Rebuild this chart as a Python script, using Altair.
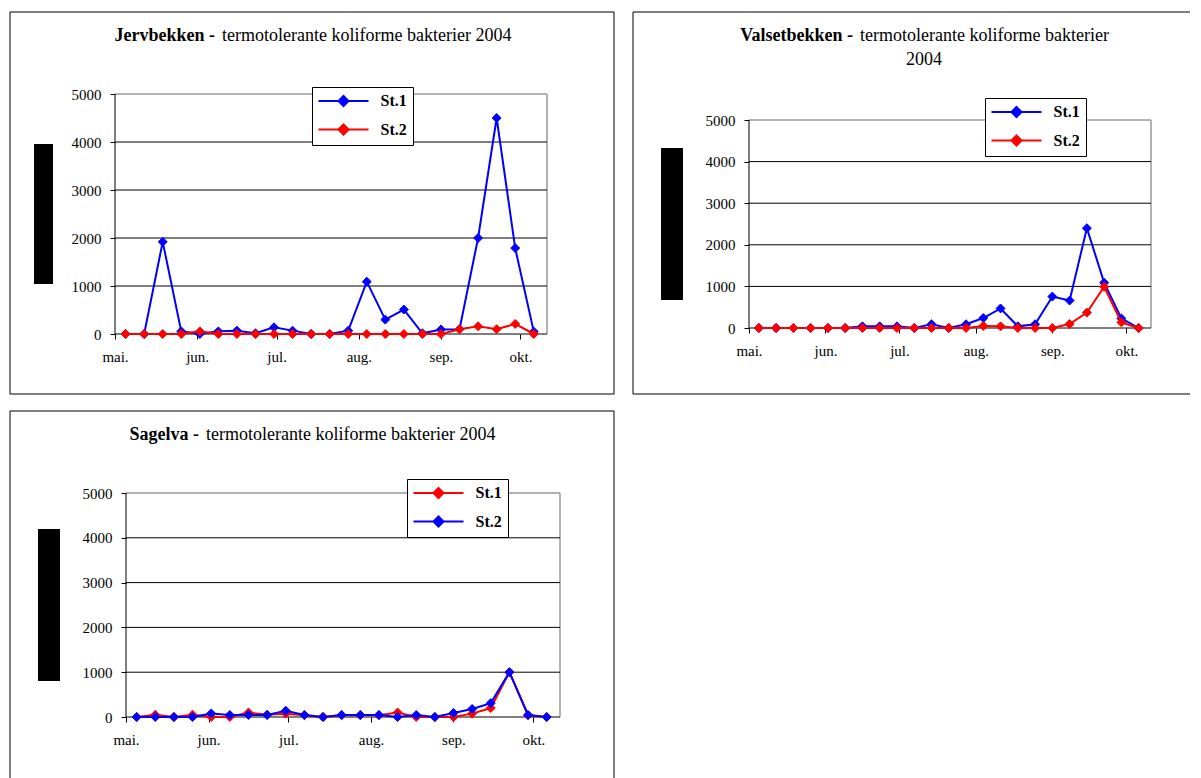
import altair as alt
import pandas as pd

# ---------------- data ----------------
dates = [
    "2004-05-05", "2004-05-12", "2004-05-19", "2004-05-26",
    "2004-06-02", "2004-06-09", "2004-06-16", "2004-06-23", "2004-06-30",
    "2004-07-07", "2004-07-14", "2004-07-21", "2004-07-28",
    "2004-08-04", "2004-08-11", "2004-08-18", "2004-08-25",
    "2004-09-01", "2004-09-08", "2004-09-15", "2004-09-22", "2004-09-29",
    "2004-10-06",
]
stations = ["St.1", "St.2"]
month_labels = ["mai.", "jun.", "jul.", "aug.", "sep.", "okt."]
month_starts = ["2004-05-01", "2004-06-01", "2004-07-01", "2004-08-01", "2004-09-01", "2004-10-01"]
axis_range = ["2004-05-01", "2004-10-11"]
y_ticks = [0, 1000, 2000, 3000, 4000, 5000]

jerv_st1 = [0, 0, 1920, 55, 0, 55, 70, 15, 140, 70, 0, 0, 70, 1090, 300, 510, 15, 95, 100, 2000, 4500, 1790, 50]
jerv_st2 = [0, 0, 0, 0, 55, 0, 0, 0, 0, 0, 0, 0, 0, 0, 0, 0, 0, 0, 100, 160, 100, 210, 0]

vals_st1 = [0, 0, 0, 0, 0, 0, 40, 40, 40, 0, 90, 0, 90, 240, 470, 40, 90, 755, 660, 2400, 1090, 230, 0]
vals_st2 = [0, 0, 0, 0, 0, 0, 0, 0, 0, 0, 0, 0, 0, 50, 40, 0, 0, 0, 95, 370, 990, 135, 0]

sag_st1 = [0, 50, 0, 50, 0, 0, 100, 50, 75, 40, 0, 40, 40, 40, 100, 0, 0, 0, 75, 200, 1000, 40, 0]
sag_st2 = [0, 0, 0, 0, 80, 45, 45, 45, 140, 45, 0, 45, 45, 45, 0, 45, 0, 90, 180, 310, 1000, 45, 0]

titles_bold = ["Jervbekken -", "Valsetbekken -", "Sagelva -"]
titles_rest = [
    "termotolerante koliforme bakterier 2004",
    "termotolerante koliforme bakterier",
    "termotolerante koliforme bakterier 2004",
]
titles_line2 = ["", "2004", ""]

# ---------------- style ----------------
BLUE = "#0000FF"
RED = "#FF0000"
GRAY = "#999999"
SERIF = "Liberation Serif"
TITLE_SIZE = 18
DAY = 86400000


def ms(s):
    return int(pd.Timestamp(s, tz="UTC").value // 10**6)


tick_ms = [ms(d) for d in month_starts]
label_expr = "[" + ",".join("'%s'" % m for m in month_labels) + "][utcmonth(datum.value) - 4]"

# plot-frame segments (axis lines, grid, plot border) in data units
black_segments = pd.DataFrame(
    [{"x": axis_range[0], "x2": axis_range[1], "y": v, "y2": v} for v in y_ticks[:-1]]
    + [{"x": axis_range[0], "x2": axis_range[0], "y": y_ticks[0], "y2": y_ticks[-1]}]
)
gray_segments = pd.DataFrame([
    {"x": axis_range[0], "x2": axis_range[1], "y": y_ticks[-1], "y2": y_ticks[-1]},
    {"x": axis_range[1], "x2": axis_range[1], "y": y_ticks[0], "y2": y_ticks[-1]},
])


def hline(x1, x2, yy):
    return alt.Chart(pd.DataFrame({"k": [0]})).mark_rule(color="black", strokeWidth=1).encode(
        x=alt.value(x1), x2=alt.value(x2), y=alt.value(yy))


def vline(xx, y1, y2):
    return alt.Chart(pd.DataFrame({"k": [0]})).mark_rule(color="black", strokeWidth=1).encode(
        x=alt.value(xx), y=alt.value(y1), y2=alt.value(y2))


def panel(idx, s1, s2, colors, view, xdom, ymax, yoff, frame, edges, box, title_cfg, leg_xy):
    vx, vy, w, h = view

    def X(field):
        return alt.X(field + ":T",
                     scale=alt.Scale(type="utc", domain=xdom),
                     axis=alt.Axis(values=tick_ms, labelExpr=label_expr, title=None, grid=False,
                                   domain=False, tickSize=5, labelPadding=10,
                                   labelOverlap=False, labelFlush=False))

    def Y(field):
        return alt.Y(field + ":Q",
                     scale=alt.Scale(domain=[0, ymax], nice=False, zero=True),
                     axis=alt.Axis(values=y_ticks, format="d", title=None, grid=False, domain=False,
                                   tickSize=5, labelPadding=9, offset=yoff))

    df = pd.DataFrame({
        "date": dates + dates,
        "value": s1 + s2,
        "station": [stations[0]] * len(dates) + [stations[1]] * len(dates),
    })
    leg = alt.Legend(
        title=None, orient="none", legendX=leg_xy[0] - vx, legendY=leg_xy[1] - vy,
        fillColor="white", strokeColor="black", padding=6,
        symbolType="M-5,0L5,0M0,-1L1,0L0,1L-1,0Z", symbolSize=100,
        symbolStrokeWidth=2, symbolOffset=17.5, symbolOpacity=1,
        labelFont=SERIF, labelFontSize=16, labelFontWeight="bold", labelColor="black",
        labelOffset=29, rowPadding=10.5,
    )
    stroke = alt.Stroke("station:N", scale=alt.Scale(domain=stations, range=colors), legend=leg)
    fill = alt.Fill("station:N", scale=alt.Scale(domain=stations, range=colors), legend=leg)

    fx1, fx2, fy1, fy2 = [frame[0] - vx, frame[1] - vx, frame[2] - vy, frame[3] - vy]
    layers = []
    if "t" in edges:
        layers.append(hline(fx1, fx2, fy1))
    if "b" in edges:
        layers.append(hline(fx1, fx2, fy2))
    if "l" in edges:
        layers.append(vline(fx1, fy1, fy2))
    if "r" in edges:
        layers.append(vline(fx2, fy1, fy2))

    layers.append(alt.Chart(pd.DataFrame({"k": [0]})).mark_rect(color="black").encode(
        x=alt.value(box[0] - vx), x2=alt.value(box[1] - vx),
        y=alt.value(box[2] - vy), y2=alt.value(box[3] - vy)))

    layers.append(alt.Chart(gray_segments).mark_rule(color=GRAY, strokeWidth=1.5).encode(
        x=X("x"), x2="x2:T", y=Y("y"), y2="y2:Q"))
    layers.append(alt.Chart(black_segments).mark_rule(color="black", strokeWidth=1).encode(
        x=X("x"), x2="x2:T", y=Y("y"), y2="y2:Q"))

    base = alt.Chart(df)
    for st in stations:
        f = base.transform_filter(alt.datum.station == st)
        layers.append(f.mark_line(strokeWidth=2).encode(x=X("date"), y=Y("value"), stroke=stroke))
        layers.append(f.mark_point(shape="diamond", filled=True, size=80, opacity=1, strokeWidth=1)
                      .encode(x=X("date"), y=Y("value"), stroke=stroke, fill=fill))

    bx, nx, ty, cx2, ty2 = title_cfg
    layers.append(alt.Chart(pd.DataFrame({"t": [titles_bold[idx]]})).mark_text(
        font=SERIF, fontSize=TITLE_SIZE, fontWeight="bold", align="right", baseline="middle", color="black"
    ).encode(x=alt.value(bx - vx), y=alt.value(ty - vy), text="t:N"))
    layers.append(alt.Chart(pd.DataFrame({"t": [titles_rest[idx]]})).mark_text(
        font=SERIF, fontSize=TITLE_SIZE, align="left", baseline="middle", color="black"
    ).encode(x=alt.value(nx - vx), y=alt.value(ty - vy), text="t:N"))
    if titles_line2[idx]:
        layers.append(alt.Chart(pd.DataFrame({"t": [titles_line2[idx]]})).mark_text(
            font=SERIF, fontSize=TITLE_SIZE, align="center", baseline="middle", color="black"
        ).encode(x=alt.value(cx2 - vx), y=alt.value(ty2 - vy), text="t:N"))

    return alt.layer(*layers).properties(width=w, height=h)


xdom_std = [ms(axis_range[0]), ms(axis_range[1])]
# panel 3: view starts 11px left of the y axis (column alignment with panel 1)
p3_px_per_day = 434 / ((ms(axis_range[1]) - ms(axis_range[0])) / DAY)
xdom_p3 = [int(ms(axis_range[0]) - 11 / p3_px_per_day * DAY), ms(axis_range[1])]

p1 = panel(0, jerv_st1, jerv_st2, [BLUE, RED],
           (114, 93, 432, 240), xdom_std, 5000, 0,
           (9, 613, 11, 393), "tblr", (33, 52, 143, 283),
           (214, 221, 35, 0, 0), (311, 86))
p2 = panel(1, vals_st1, vals_st2, [BLUE, RED],
           (749, 93, 402, 234), xdom_std, 5000 * 234 / 208, 0,
           (633, 1190, 11, 393), "tbl", (661, 683, 147, 299),
           (853, 860, 35, 924, 59), (985, 97))
p3 = panel(2, sag_st1, sag_st2, [RED, BLUE],
           (114, 493, 445, 224), xdom_p3, 5000, -11,
           (9, 613, 411, 793), "tlr", (37, 59, 529, 681),
           (198, 205, 435, 0, 0), (406, 479))

chart = alt.concat(
    p1, p2, p3, columns=2, spacing={"row": 15, "column": 17}
).resolve_scale(
    stroke="independent", fill="independent", x="independent", y="independent"
).resolve_legend(stroke="independent", fill="independent").configure_view(
    stroke="transparent"
).configure_axis(
    labelFont=SERIF, labelFontSize=15, labelColor="black",
    tickColor="black", tickWidth=1,
).properties(
    padding={"left": 1, "top": 3, "right": 0, "bottom": 0},
    background="white",
)

chart.save("out.html", embed_options={"renderer": "svg", "actions": False})
